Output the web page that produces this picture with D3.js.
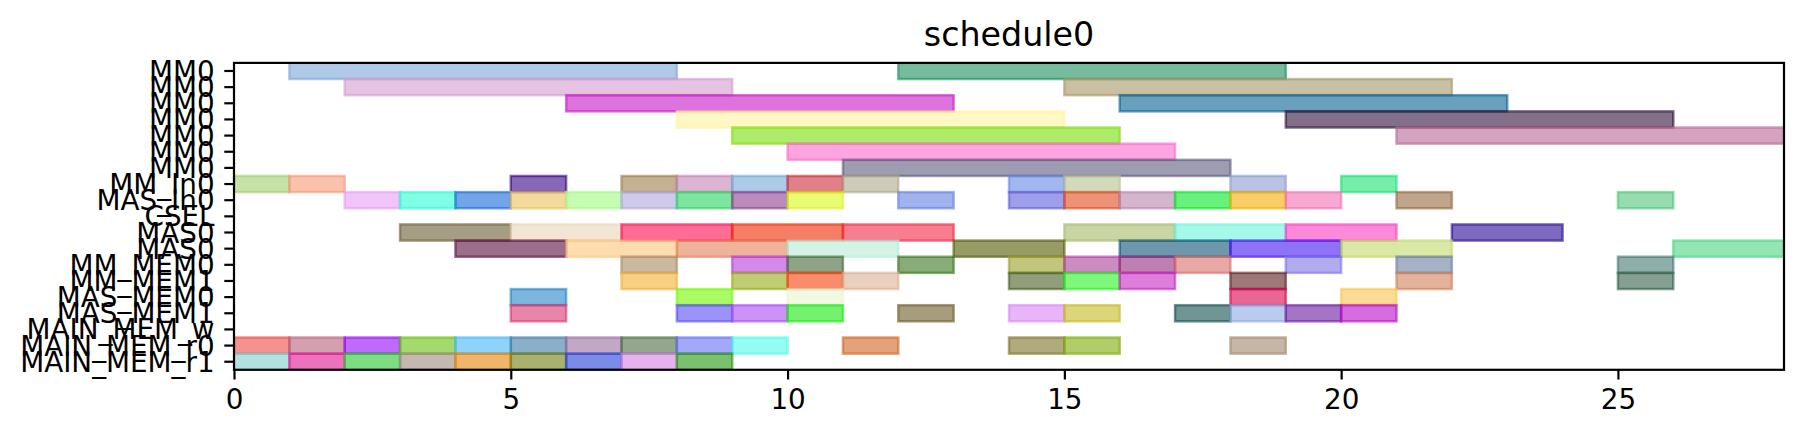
<!DOCTYPE html>
<html lang="en">
<head>
    <meta charset="UTF-8">
    <title>schedule0</title>
    <style>
        body { margin: 0; background: #fff; }
        svg { display: block; }
        .tick text { font-family: "DejaVu Sans", sans-serif; font-size: 27.8px; fill: #000; }
        .tick line { stroke: #000; stroke-width: 2.2px; }
        .title { font-family: "DejaVu Sans", sans-serif; font-size: 33.3px; fill: #000; }
    </style>
</head>
<body>
    <svg width="1803" height="438"></svg>
    <script src="https://d3js.org/d3.v7.min.js"></script>
    <script>
        // row labels, top to bottom
        const rowLabels = ["MM0", "MM0", "MM0", "MM0", "MM0", "MM0", "MM0",
                           "MM_In0", "MAS_In0", "CSEL", "MAS0", "MAS0",
                           "MM_MEM0", "MM_MEM1", "MAS_MEM0", "MAS_MEM1",
                           "MAIN_MEM_w", "MAIN_MEM_r0", "MAIN_MEM_r1"];

        // [start, end] per row
        const mm0a = [[1, 8], [12, 19]];
        const mm0b = [[2, 9], [15, 22]];
        const mm0c = [[6, 13], [16, 23]];
        const mm0d = [[8, 15], [19, 26]];
        const mm0e = [[9, 16], [21, 28]];
        const mm0f = [[10, 17]];
        const mm0g = [[11, 18]];
        const mmIn0 = [[0, 1], [1, 2], [5, 6], [7, 8], [8, 9], [9, 10], [10, 11], [11, 12],
                       [14, 15], [15, 16], [18, 19], [20, 21]];
        const masIn0 = [[2, 3], [3, 4], [4, 5], [5, 6], [6, 7], [7, 8], [8, 9], [9, 10], [10, 11],
                        [12, 13], [14, 15], [15, 16], [16, 17], [17, 18], [18, 19], [19, 20],
                        [21, 22], [25, 26]];
        const csel = [];
        const mas0a = [[3, 5], [5, 7], [7, 9], [9, 11], [11, 13], [15, 17], [17, 19], [19, 21], [22, 24]];
        const mas0b = [[4, 6], [6, 8], [8, 10], [10, 12], [13, 15], [16, 18], [18, 20], [20, 22], [26, 28]];
        const mmMem0 = [[7, 8], [9, 10], [10, 11], [12, 13], [14, 15], [15, 16], [16, 17], [17, 18],
                        [19, 20], [21, 22], [25, 26]];
        const mmMem1 = [[7, 8], [9, 10], [10, 11], [11, 12], [14, 15], [15, 16], [16, 17], [18, 19],
                        [21, 22], [25, 26]];
        const masMem0 = [[5, 6], [8, 9], [10, 11], [18, 19], [20, 21]];
        const masMem1 = [[5, 6], [8, 9], [9, 10], [10, 11], [12, 13], [14, 15], [15, 16], [17, 18],
                         [18, 19], [19, 20], [20, 21]];
        const mainMemW = [];
        const mainMemR0 = [[0, 1], [1, 2], [2, 3], [3, 4], [4, 5], [5, 6], [6, 7], [7, 8], [8, 9],
                           [9, 10], [11, 12], [14, 15], [15, 16], [18, 19]];
        const mainMemR1 = [[0, 1], [1, 2], [2, 3], [3, 4], [4, 5], [5, 6], [6, 7], [7, 8], [8, 9]];

        const rowBars = [mm0a, mm0b, mm0c, mm0d, mm0e, mm0f, mm0g, mmIn0, masIn0, csel,
                         mas0a, mas0b, mmMem0, mmMem1, masMem0, masMem1, mainMemW, mainMemR0, mainMemR1];

        const xTicks = [0, 5, 10, 15, 20, 25];

        // colours as they look on white (alpha 0.6), in drawing order
        const seenColors = [
            "#b0c9e8", "#76bb9e",
            "#e6c3e3", "#c9c0a3",
            "#dd73dc", "#69a0bd",
            "#fff8c4", "#817087",
            "#afeb6b", "#d3a3c0",
            "#fca5e0",
            "#9d9cb0",
            "#c7e2a8", "#fac1ad", "#8768b8", "#c6b092", "#dcb5d4", "#abcbe6", "#e08088", "#cecbb9",
            "#a3b7ef", "#d3dabb", "#b9c3e3", "#76eeaa",
            "#f0c4f8", "#7ffde5", "#74a4e8", "#f2d99c", "#c7fdb2", "#cfcaeb", "#7ee59f", "#b98cbc",
            "#e7fb75", "#a0b3ec", "#a09ee8", "#eb9277", "#d4b5ce", "#69f07e", "#f7cd67", "#f8a9d1",
            "#bea58b", "#96dcae",
            "#a59e85", "#f2e5d3", "#ff6c96", "#f77e66", "#f77d8f", "#c9d5a3", "#a6f8e9", "#fd89da", "#7e6bbf",
            "#9c6e8b", "#fddcb0", "#efb29a", "#d4f3e6", "#979b63", "#6e96ad", "#8e72f8", "#d9e8a4", "#91e6b3",
            "#c9b9a1", "#d289e9", "#8fa487", "#88ab78", "#c4c57d", "#cd8bc3", "#be80b0", "#e7a8a6",
            "#b1acee", "#a5b2c6", "#8fadab",
            "#f9cf83", "#c2cc75", "#f98c6c", "#e9cfbe", "#8f9f7b", "#7ff67c", "#dd7edb", "#9e7879",
            "#e2b39a", "#859f90",
            "#7cb5dd", "#aafb63", "#f1f9e2", "#e76593", "#fbdc92",
            "#e886aa", "#9b93f7", "#cb92f8", "#74f26f", "#a89c7e", "#e8b6f8", "#dcd57a", "#709594",
            "#bbcbed", "#a475c5", "#d56cdf",
            "#f4928f", "#d4a0b0", "#c06afb", "#a3d96f", "#8fd3fb", "#8aafc8", "#c2a7c7", "#93a78e",
            "#a3a8f9", "#96fbf2", "#e4a27b", "#b0aa7c", "#b0cd6a", "#c6b6a6",
            "#b1e2df", "#ec72be", "#7edd80", "#c4b8b1", "#f0b46b", "#aab070", "#7a8ce8", "#e3b3ee", "#7cc06f"
        ];

        const alpha = 0.6;
        // undo the blend with white to get the base colour
        function unblend(hex) {
            const c = d3.rgb(hex);
            const f = v => Math.max(0, Math.min(255, Math.round((v - 255 * (1 - alpha)) / alpha)));
            return d3.rgb(f(c.r), f(c.g), f(c.b)).formatHex();
        }

        const svg = d3.select("svg");
        const plotLeft = 234, plotRight = 1784, plotTop = 62.9, plotBottom = 369.8;

        const x = d3.scaleLinear().domain([0, 28]).range([plotLeft, plotRight]);
        const y = d3.scaleBand().domain(d3.range(rowLabels.length)).range([plotTop, plotBottom]).padding(0);

        svg.append("clipPath").attr("id", "plot-clip")
            .append("rect")
            .attr("x", plotLeft).attr("y", plotTop)
            .attr("width", plotRight - plotLeft).attr("height", plotBottom - plotTop);

        const bars = [];
        rowBars.forEach((list, i) => list.forEach(b => bars.push({ row: i, start: b[0], end: b[1] })));
        bars.forEach((d, k) => d.color = unblend(seenColors[k % seenColors.length]));

        svg.append("g")
            .attr("clip-path", "url(#plot-clip)")
            .selectAll("rect")
            .data(bars)
            .join("rect")
            .attr("x", d => x(d.start))
            .attr("y", d => y(d.row))
            .attr("width", d => x(d.end) - x(d.start))
            .attr("height", y.bandwidth())
            .attr("fill", d => d.color)
            .attr("fill-opacity", alpha)
            .attr("stroke", d => d.color)
            .attr("stroke-opacity", alpha)
            .attr("stroke-width", 2.5);

        const xAxis = svg.append("g")
            .attr("transform", `translate(0,${plotBottom})`)
            .call(d3.axisBottom(x).tickValues(xTicks).tickFormat(d3.format("d"))
                .tickSize(9.7).tickPadding(9.7));
        xAxis.select(".domain").remove();

        const yAxis = svg.append("g")
            .attr("transform", `translate(${plotLeft},0)`)
            .call(d3.axisLeft(y).tickFormat(i => rowLabels[i]).tickSize(9.7).tickPadding(9.7));
        yAxis.select(".domain").remove();
        yAxis.selectAll(".tick text").attr("dy", "0.36em");

        svg.append("rect")
            .attr("x", plotLeft).attr("y", plotTop)
            .attr("width", plotRight - plotLeft).attr("height", plotBottom - plotTop)
            .attr("fill", "none")
            .attr("stroke", "#000")
            .attr("stroke-width", 2.2);

        svg.append("text")
            .attr("class", "title")
            .attr("x", (plotLeft + plotRight) / 2)
            .attr("y", plotTop - 16.7)
            .attr("text-anchor", "middle")
            .text("schedule0");
    </script>
</body>
</html>
